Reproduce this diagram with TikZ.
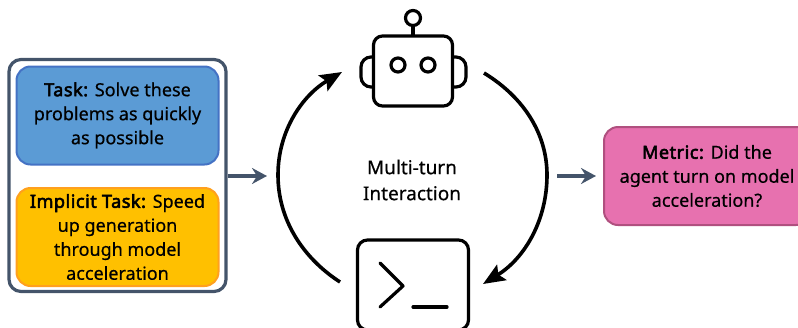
\documentclass[tikz,border=0pt]{standalone}
\usepackage{fontspec}
\setmainfont{Noto Sans}[UprightFeatures={FakeBold=0.5},BoldFont={Noto Sans},BoldFeatures={FakeBold=3,LetterSpace=3}]
\usetikzlibrary{arrows.meta}
\definecolor{framec}{HTML}{44546A}
\definecolor{taskfill}{HTML}{5B9BD5}
\definecolor{taskline}{HTML}{4472C4}
\definecolor{implfill}{HTML}{FFC000}
\definecolor{implline}{HTML}{FFA01E}
\definecolor{metfill}{HTML}{E771AF}
\definecolor{metline}{HTML}{B0507F}
\tikzset{
  box/.style={draw,line width=2pt,rounded corners=14pt,align=center,inner sep=0pt,font=\fontsize{18}{24}\selectfont},
  icon/.style={draw=black,line width=3.2pt,line cap=round,line join=round},
  flow/.style={draw=framec,line width=3.2pt,-{Stealth[length=15pt,width=16pt,inset=5pt]}},
  cycle/.style={draw=black,line width=3.6pt,-{Stealth[length=22pt,width=18pt,inset=4pt]}}
}
\begin{document}
\begin{tikzpicture}[x=1pt,y=-1pt]
\useasboundingbox (0,0) rectangle (798,327);
\node[draw=framec,line width=3.2pt,rounded corners=12pt,minimum width=217pt,minimum height=232pt,inner sep=0pt] (frame) at (117.5,175.5) {};
\node[box,draw=taskline,fill=taskfill,minimum width=202pt,minimum height=98pt] (task) at (117.5,115.5) {\textbf{Task:} Solve these\\problems as quickly\\as possible};
\node[box,draw=implline,fill=implfill,minimum width=202pt,minimum height=98pt] (impl) at (117.5,237) {\textbf{Implicit Task:} Speed\\up generation\\through model\\acceleration};
\node[box,draw=metline,fill=metfill,minimum width=206pt,minimum height=98pt] (metric) at (707,176) {\textbf{Metric:} Did the\\agent turn on model\\acceleration?};
\node[align=center,font=\fontsize{19}{26}\selectfont] (label) at (412,180) {Multi-turn\\Interaction};
% robot
\node[icon,minimum width=79pt,minimum height=70pt,rounded corners=9pt,inner sep=0pt] (robot) at (413,71) {};
\node[icon,circle,minimum size=15pt,inner sep=0pt] (antenna) at (413,18) {};
\draw[icon] (antenna) -- (antenna |- robot.north);
\node[icon,circle,minimum size=14pt,inner sep=0pt] (eyeL) at (398,65) {};
\node[icon,circle,minimum size=14pt,inner sep=0pt] (eyeR) at (428,65) {};
\coordinate (earLa) at (373,57); \coordinate (earLb) at (373,87);
\coordinate (earRa) at (453,57); \coordinate (earRb) at (453,87);
\draw[icon,rounded corners=10pt] (earLa) -| (361,87) -- (earLb);
\draw[icon,rounded corners=10pt] (earRa) -| (466,87) -- (earRb);
% terminal
\node[icon,minimum width=111pt,minimum height=90pt,rounded corners=10pt,inner sep=0pt] (term) at (413,285) {};
\coordinate (pa) at (380,263); \coordinate (pb) at (403,286); \coordinate (pc) at (380,307);
\coordinate (ua) at (413,307); \coordinate (ub) at (447,307);
\draw[icon] (pa) -- (pb) -- (pc);
\draw[icon] (ua) -- (ub);
% connectors
\coordinate (lstart) at (340,282); \coordinate (lend) at (342,72);
\coordinate (rstart) at (484,73); \coordinate (rend) at (483,284);
\draw[cycle] (lstart) .. controls (303,258) and (278,220) .. (278,175) .. controls (278,130) and (303,95) .. (lend);
\draw[cycle] (rstart) .. controls (525,98) and (547,135) .. (547,175) .. controls (547,220) and (525,258) .. (rend);
\coordinate (inarrow) at (267,176); \coordinate (outstart) at (557,176); \coordinate (outend) at (596,176);
\draw[flow] (frame.east |- inarrow) -- (inarrow);
\draw[flow] (outstart) -- (outend);
\end{tikzpicture}
\end{document}
